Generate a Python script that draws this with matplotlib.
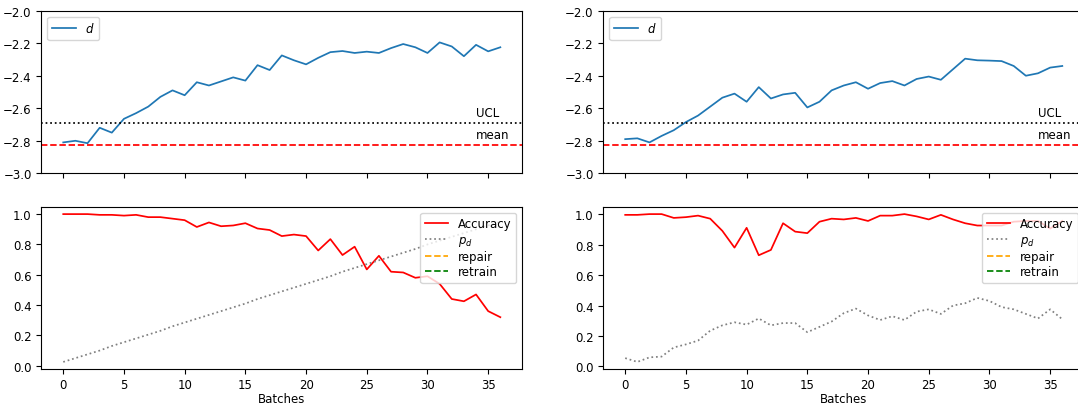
import matplotlib
matplotlib.use("Agg")
import matplotlib.pyplot as plt
from matplotlib.ticker import MultipleLocator

plt.rcParams["font.size"] = 8.5
plt.rcParams["xtick.major.pad"] = 2.5
plt.rcParams["legend.labelspacing"] = 0.2
plt.rcParams["lines.linewidth"] = 1.25

batches = list(range(37))

# distance statistic d per batch
d_left = [-2.81, -2.80, -2.815, -2.72, -2.75, -2.665, -2.63, -2.59, -2.53, -2.49,
          -2.52, -2.44, -2.46, -2.435, -2.41, -2.43, -2.335, -2.365, -2.275, -2.305,
          -2.33, -2.29, -2.255, -2.248, -2.26, -2.252, -2.26, -2.23, -2.205, -2.225,
          -2.26, -2.195, -2.22, -2.28, -2.21, -2.25, -2.225]
d_right = [-2.79, -2.785, -2.81, -2.77, -2.735, -2.685, -2.645, -2.59, -2.535, -2.51,
           -2.56, -2.47, -2.54, -2.515, -2.505, -2.595, -2.56, -2.49, -2.46, -2.44,
           -2.48, -2.445, -2.433, -2.46, -2.42, -2.405, -2.425, -2.36, -2.295, -2.305,
           -2.307, -2.31, -2.34, -2.40, -2.385, -2.35, -2.34]

ucl = -2.69
mean = -2.826

acc_left = [1.0, 1.0, 1.0, 0.995, 0.995, 0.99, 0.995, 0.98, 0.98, 0.97,
            0.96, 0.915, 0.945, 0.92, 0.925, 0.94, 0.905, 0.895, 0.855, 0.865,
            0.855, 0.76, 0.835, 0.73, 0.785, 0.635, 0.725, 0.62, 0.615, 0.58,
            0.59, 0.54, 0.44, 0.425, 0.47, 0.36, 0.32]
pd_left = [0.025, 0.05, 0.075, 0.10, 0.13, 0.155, 0.18, 0.205, 0.23, 0.26,
           0.285, 0.31, 0.335, 0.36, 0.385, 0.41, 0.44, 0.465, 0.49, 0.515,
           0.54, 0.565, 0.59, 0.62, 0.645, 0.67, 0.695, 0.72, 0.745, 0.77,
           0.80, 0.825, 0.85, 0.875, 0.90, 0.925, 0.95]

acc_right = [0.995, 0.995, 1.0, 1.0, 0.975, 0.98, 0.99, 0.97, 0.89, 0.78,
             0.91, 0.73, 0.765, 0.94, 0.885, 0.875, 0.95, 0.97, 0.965, 0.975,
             0.955, 0.99, 0.99, 1.0, 0.985, 0.965, 0.995, 0.965, 0.94, 0.925,
             0.925, 0.925, 0.95, 0.955, 0.955, 0.905, 0.955]
pd_right = [0.055, 0.03, 0.06, 0.065, 0.125, 0.145, 0.17, 0.235, 0.27, 0.29,
            0.275, 0.315, 0.27, 0.285, 0.285, 0.225, 0.26, 0.295, 0.35, 0.38,
            0.335, 0.305, 0.33, 0.305, 0.36, 0.375, 0.345, 0.40, 0.415, 0.45,
            0.43, 0.39, 0.375, 0.345, 0.315, 0.375, 0.31]

fig = plt.figure(figsize=(10.78, 4.06), dpi=100)

w, h = 0.446, 0.4005
for x0, d, acc, pd in [(0.0384, d_left, acc_left, pd_left),
                       (0.5597, d_right, acc_right, pd_right)]:
    ax2 = fig.add_axes([x0, 0.0879, w, h])
    ax1 = fig.add_axes([x0, 0.5707, w, h], sharex=ax2)

    ax1.plot(batches, d, color="tab:blue", label="$d$")
    ax1.axhline(ucl, color="black", linestyle=":")
    ax1.axhline(mean, color="red", linestyle="--")
    ax1.text(34, ucl + 0.025, "UCL", va="bottom")
    ax1.text(34, mean + 0.025, "mean", va="bottom")
    ax1.set_ylim(-3.0, -2.0)
    ax1.legend(loc="upper left")
    plt.setp(ax1.get_xticklabels(), visible=False)

    ax2.plot(batches, acc, color="red", label="Accuracy")
    ax2.plot(batches, pd, color="grey", linestyle=":", label="$p_d$")
    ax2.plot([], [], color="orange", linestyle="--", label="repair")
    ax2.plot([], [], color="green", linestyle="--", label="retrain")
    ax2.yaxis.set_major_locator(MultipleLocator(0.2))
    ax2.set_xlabel("Batches", labelpad=1)
    ax2.legend(loc="upper right")

fig.savefig("out.png", dpi=100)
